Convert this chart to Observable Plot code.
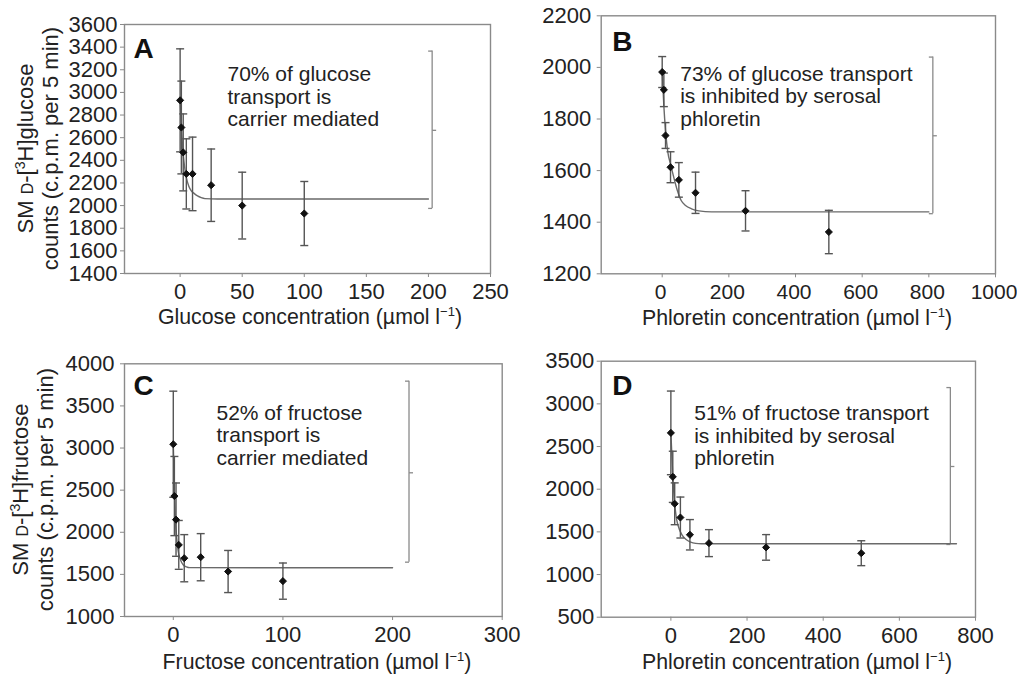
<!DOCTYPE html>
<html><head><meta charset="utf-8">
<script src="https://cdn.jsdelivr.net/npm/d3@7"></script>
<script src="https://cdn.jsdelivr.net/npm/@observablehq/plot@0.6"></script>
<style>
body{margin:0;background:#fff;}
#wrap{position:relative;width:1017px;height:675px;overflow:hidden;background:#fff;font-family:"Liberation Sans",Arial,sans-serif;}
#wrap svg{position:absolute;overflow:visible;}
</style></head><body><div id="wrap"></div>
<script>
// ---------- Panel A: glucose concentration ----------
const xA = [0, 1, 2.5, 5, 10, 25, 50, 100];
const meanA = [2930, 2690, 2470, 2280, 2280, 2180, 2000, 1930];
const semA = [455, 410, 340, 310, 325, 320, 295, 283];
const fitAx = [0, 1, 2, 3, 4, 5, 7, 9, 11, 14, 17, 20, 30, 200];
const fitAy = [2930, 2700, 2520, 2400, 2310, 2250, 2170, 2130, 2110, 2085, 2070, 2062, 2058, 2058];
const bracketA = [203, 3365, 2665, 1975]; // x, top, middle, bottom
const xTicksA = [0, 50, 100, 150, 200, 250];
const yTicksA = [1400, 1600, 1800, 2000, 2200, 2400, 2600, 2800, 3000, 3200, 3400, 3600];
const xDomA = [-44.8, 250];
const yDomA = [1400, 3600];
const noteA = "70% of glucose\ntransport is\ncarrier mediated";

// ---------- Panel B: phloretin (glucose) ----------
const xB = [0, 5, 10, 25, 50, 100, 250, 500];
const meanB = [1982, 1913, 1736, 1613, 1564, 1514, 1444, 1362];
const semB = [60, 65, 50, 60, 67, 80, 78, 84];
const fitBx = [0, 5, 10, 17, 25, 32, 45, 57, 70, 88, 110, 148, 800];
const fitBy = [1985, 1850, 1755, 1671, 1625, 1588, 1525, 1484, 1465, 1452, 1444, 1440, 1440];
const bracketB = [812, 2040, 1735, 1433];
const xTicksB = [0, 200, 400, 600, 800, 1000];
const yTicksB = [1200, 1400, 1600, 1800, 2000, 2200];
const xDomB = [-183, 1000];
const yDomB = [1200, 2200];
const noteB = "73% of glucose transport\nis inhibited by serosal\nphloretin";

// ---------- Panel C: fructose concentration ----------
const xC = [0, 1, 2.5, 5, 10, 25, 50, 100];
const meanC = [3045, 2430, 2150, 1850, 1692, 1704, 1534, 1420];
const semC = [630, 470, 435, 290, 280, 280, 250, 215];
const fitCx = [0, 1, 2, 3, 4, 5, 7, 9, 12, 15, 200];
const fitCy = [3045, 2500, 2150, 1950, 1820, 1740, 1660, 1615, 1590, 1580, 1578];
const bracketC = [215, 3794, 2706, 1645];
const xTicksC = [0, 100, 200, 300];
const yTicksC = [1000, 1500, 2000, 2500, 3000, 3500, 4000];
const xDomC = [-44.5, 300];
const yDomC = [1000, 4000];
const noteC = "52% of fructose\ntransport is\ncarrier mediated";

// ---------- Panel D: phloretin (fructose) ----------
const xD = [0, 5, 10, 25, 50, 100, 250, 500];
const meanD = [2660, 2145, 1829, 1668, 1466, 1368, 1318, 1250];
const semD = [490, 300, 245, 240, 178, 158, 150, 146];
const fitDx = [0, 5, 10, 15, 20, 25, 30, 40, 52, 65, 80, 750];
const fitDy = [2660, 2150, 1830, 1650, 1560, 1500, 1460, 1410, 1380, 1365, 1360, 1360];
const bracketD = [734, 3191, 2266, 1352];
const xTicksD = [0, 200, 400, 600, 800];
const yTicksD = [500, 1000, 1500, 2000, 2500, 3000, 3500];
const xDomD = [-183, 800];
const yDomD = [500, 3500];
const noteD = "51% of fructose transport\nis inhibited by serosal\nphloretin";

const letters = ["A", "B", "C", "D"];
const xTitles = ["Glucose concentration", "Phloretin concentration", "Fructose concentration", "Phloretin concentration"];
const yTitleSugar = ["glucose", null, "fructose", null];

// ---------- layout (pixels) ----------
const layout = [
  {box: {x: 0, y: 0, w: 505, h: 340}, frame: {l: 124, t: 24, r: 490, b: 273}, ytp: 3, xfs: 22, xdx: 0,
   letter: [9, 33], note: [103, 41], xt: [310, 324], yt: [33, 58]},
  {box: {x: 505, y: 0, w: 512, h: 340}, frame: {l: 600.7, t: 15.3, r: 995, b: 273.3}, ytp: 6, xfs: 21, xdx: -1.5,
   letter: [11, 35], note: [79, 49], xt: [797, 325]},
  {box: {x: 0, y: 340, w: 505, h: 335}, frame: {l: 124, t: 363.3, r: 501.7, b: 616}, ytp: 6, xfs: 22, xdx: 0,
   letter: [9, 31], note: [92, 40], xt: [317, 669], yt: [28, 53]},
  {box: {x: 505, y: 340, w: 512, h: 335}, frame: {l: 600.7, t: 360.7, r: 975, b: 616.7}, ytp: 3, xfs: 22, xdx: 0,
   letter: [11, 34], note: [93, 43], xt: [797, 669]}
];

const panels = [
  {x: xA, mean: meanA, sem: semA, fitX: fitAx, fitY: fitAy, bracket: bracketA, xTicks: xTicksA, yTicks: yTicksA, xDom: xDomA, yDom: yDomA, note: noteA},
  {x: xB, mean: meanB, sem: semB, fitX: fitBx, fitY: fitBy, bracket: bracketB, xTicks: xTicksB, yTicks: yTicksB, xDom: xDomB, yDom: yDomB, note: noteB},
  {x: xC, mean: meanC, sem: semC, fitX: fitCx, fitY: fitCy, bracket: bracketC, xTicks: xTicksC, yTicks: yTicksC, xDom: xDomC, yDom: yDomC, note: noteC},
  {x: xD, mean: meanD, sem: semD, fitX: fitDx, fitY: fitDy, bracket: bracketD, xTicks: xTicksD, yTicks: yTicksD, xDom: xDomD, yDom: yDomD, note: noteD}
];

// custom line symbols (half-width = r)
const capSym = {draw(ctx, size) { const h = Math.sqrt(size / Math.PI); ctx.moveTo(-h, 0); ctx.lineTo(h, 0); }};
const hookL = {draw(ctx, size) { const h = Math.sqrt(size / Math.PI); ctx.moveTo(-h, 0); ctx.lineTo(0, 0); }};
const hookR = {draw(ctx, size) { const h = Math.sqrt(size / Math.PI); ctx.moveTo(0, 0); ctx.lineTo(h, 0); }};

const FONT = "'Liberation Sans', Arial, Helvetica, sans-serif";
const fmt = d => String(d);
const wrap = document.getElementById("wrap");

panels.forEach((p, k) => {
  const L = layout[k];
  const pts = p.x.map((x, i) => ({x, y: p.mean[i], lo: p.mean[i] - p.sem[i], hi: p.mean[i] + p.sem[i]}));
  const fit = p.fitX.map((x, i) => ({x, y: p.fitY[i]}));
  const [bx, bt, bm, bb] = p.bracket;
  const ends = [{x: bx, y: bt}, {x: bx, y: bb}];
  const mid = [{x: bx, y: bm}];
  const svg = Plot.plot({
    width: L.box.w, height: L.box.h,
    marginLeft: L.frame.l - L.box.x,
    marginTop: L.frame.t - L.box.y,
    marginRight: L.box.x + L.box.w - L.frame.r,
    marginBottom: L.box.y + L.box.h - L.frame.b,
    style: {fontFamily: FONT, fontSize: "22px", color: "#222", background: "transparent", overflow: "visible"},
    x: {domain: p.xDom},
    y: {domain: p.yDom},
    marks: [
      Plot.axisX(p.xTicks, {tickSize: 4, tickFormat: () => "", stroke: "#8a8a8a", label: null}),
      Plot.axisX(p.xTicks, {tickSize: 0, tickPadding: 10, tickFormat: fmt, stroke: "none", fill: "#222", fontSize: L.xfs, dx: L.xdx, label: null}),
      Plot.axisY(p.yTicks, {tickSize: 4, tickPadding: L.ytp, tickFormat: fmt, stroke: "#8a8a8a", fill: "#222", fontSize: 22, label: null}),
      Plot.frame({stroke: "#8a8a8a", strokeWidth: 1.4}),
      Plot.ruleX([bx], {y1: bt, y2: bb, stroke: "#8a8a8a", strokeWidth: 1.3}),
      Plot.dot(ends, {x: "x", y: "y", symbol: hookL, r: 4, stroke: "#8a8a8a", fill: "none", strokeWidth: 1.3}),
      Plot.dot(mid, {x: "x", y: "y", symbol: hookR, r: 4, stroke: "#8a8a8a", fill: "none", strokeWidth: 1.3}),
      Plot.line(fit, {x: "x", y: "y", curve: "monotone-x", stroke: "#6a6a6a", strokeWidth: 1.4}),
      Plot.ruleX(pts, {x: "x", y1: "lo", y2: "hi", stroke: "#555", strokeWidth: 1.4}),
      Plot.dot(pts, {x: "x", y: "hi", symbol: capSym, r: 4, stroke: "#555", fill: "none", strokeWidth: 1.4}),
      Plot.dot(pts, {x: "x", y: "lo", symbol: capSym, r: 4, stroke: "#555", fill: "none", strokeWidth: 1.4}),
      Plot.dot(pts, {x: "x", y: "y", symbol: "diamond2", r: 3.2, fill: "#111", stroke: "#111", strokeWidth: 1}),
      Plot.text([letters[k]], {frameAnchor: "top-left", dx: L.letter[0], dy: L.letter[1], lineAnchor: "bottom", textAnchor: "start", fontWeight: "bold", fontSize: 28, fill: "#111"}),
      Plot.text([p.note], {frameAnchor: "top-left", dx: L.note[0], dy: L.note[1], lineAnchor: "top", textAnchor: "start", lineHeight: 1.07, fontSize: 21, fill: "#222"})
    ]
  });
  svg.style.left = L.box.x + "px";
  svg.style.top = L.box.y + "px";
  const s = d3.select(svg);
  // x-axis title with superscript
  const xt = s.append("text")
    .attr("x", L.xt[0] - L.box.x).attr("y", L.xt[1] - L.box.y)
    .attr("text-anchor", "middle").attr("font-size", 21.3).attr("fill", "#222");
  xt.append("tspan").text(xTitles[k] + " (\u00b5mol l");
  xt.append("tspan").attr("font-size", 13).attr("dy", -8).text("\u22121");
  xt.append("tspan").attr("dy", 8).text(")");
  // y-axis title (two lines, rotated)
  if (yTitleSugar[k]) {
    const cy = (L.frame.t + L.frame.b) / 2 - L.box.y;
    const t1 = s.append("text")
      .attr("transform", `translate(${L.yt[0] - L.box.x},${cy}) rotate(-90)`)
      .attr("text-anchor", "middle").attr("font-size", 22).attr("fill", "#222");
    t1.append("tspan").text("SM ");
    t1.append("tspan").attr("font-size", 16).text("D");
    t1.append("tspan").text("-[");
    t1.append("tspan").attr("font-size", 14).attr("dy", -8).text("3");
    t1.append("tspan").attr("dy", 8).text("H]" + yTitleSugar[k]);
    s.append("text")
      .attr("transform", `translate(${L.yt[1] - L.box.x},${cy}) rotate(-90)`)
      .attr("text-anchor", "middle").attr("font-size", 22).attr("fill", "#222")
      .text("counts (c.p.m. per 5 min)");
  }
  wrap.appendChild(svg);
});
</script>
</body></html>
